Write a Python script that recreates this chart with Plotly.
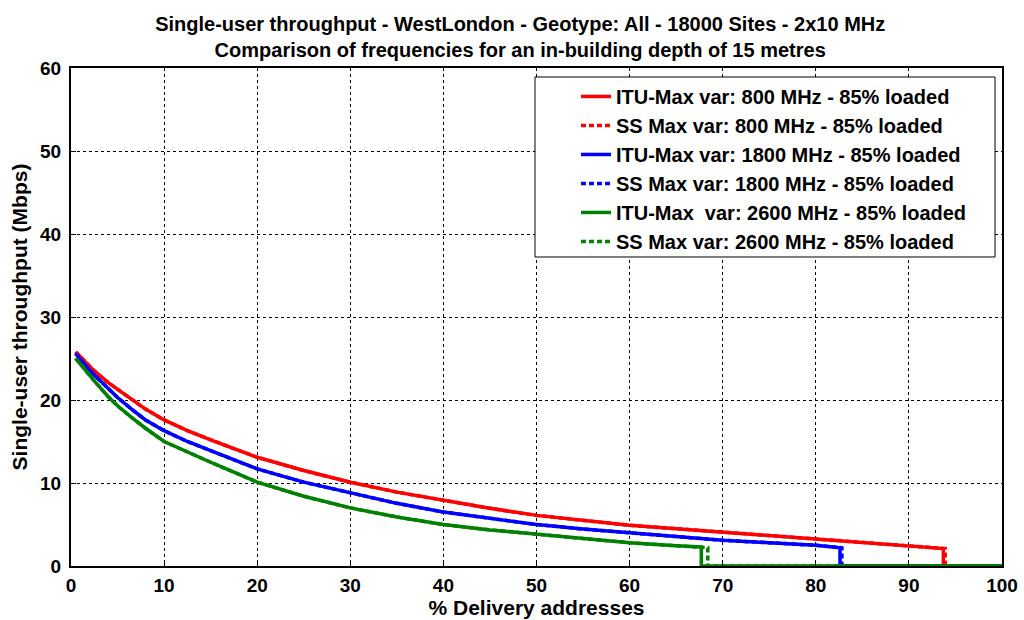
import plotly.graph_objects as go

# % delivery addresses (x) sample points
x_pct = [0.5, 1, 2.5, 4, 5, 6.5, 8, 10, 12.5, 15, 17.5, 20, 25, 30, 35, 40, 45, 50,
         55, 60, 65, 70, 75, 80, 85, 90]

# Single-user throughput (Mbps)
y_800 = [25.8, 25.2, 23.5, 22.1, 21.3, 20.1, 18.9, 17.6, 16.3, 15.2, 14.1, 13.1, 11.5, 10.1,
         8.9, 7.9, 6.95, 6.1, 5.45, 4.9, 4.5, 4.1, 3.7, 3.3, 2.9, 2.5]
y_1800 = [25.6, 24.9, 23.0, 21.3, 20.3, 18.9, 17.6, 16.3, 15.0, 13.9, 12.8, 11.7, 10.1, 8.8,
          7.55, 6.5, 5.7, 5.0, 4.45, 4.0, 3.5, 3.1, 2.8, 2.5]
y_2600 = [25.0, 24.3, 22.3, 20.4, 19.3, 17.9, 16.6, 15.0, 13.7, 12.5, 11.3, 10.1, 8.4, 7.0,
          5.9, 5.0, 4.35, 3.8, 3.25, 2.8, 2.45]

# coverage end points (x where throughput drops to 0) and last value
end_itu = {"800": (93.7, 2.1), "1800": (82.6, 2.2), "2600": (67.7, 2.3)}
end_ss = {"800": (93.9, 2.1), "1800": (82.8, 2.2), "2600": (68.4, 2.2)}
x_max = 100

labels_itu = ["ITU-Max var: 800 MHz - 85% loaded",
              "ITU-Max var: 1800 MHz - 85% loaded",
              "ITU-Max \u00a0var: 2600 MHz - 85% loaded"]
labels_ss = ["SS Max var: 800 MHz - 85% loaded",
             "SS Max var: 1800 MHz - 85% loaded",
             "SS Max var: 2600 MHz - 85% loaded"]
freqs = ["800", "1800", "2600"]
series = [y_800, y_1800, y_2600]
colors = ["#ff0000", "#0000ff", "#008000"]

FONT = "Liberation Sans, Arial, sans-serif"

fig = go.Figure()
for f, ys, c, li, ls in zip(freqs, series, colors, labels_itu, labels_ss):
    xs = x_pct[:len(ys)]
    for (ex, ey), name, dash in ((end_itu[f], li, "solid"), (end_ss[f], ls, "5px,3px")):
        fig.add_trace(go.Scatter(
            x=xs + [ex, ex, x_max],
            y=ys + [ey, 0, 0],
            mode="lines",
            name=name,
            line=dict(color=c, width=3.5, dash=dash),
        ))

axis_common = dict(
    showline=True, linecolor="black", linewidth=2, mirror=True,
    showgrid=True, gridcolor="black", gridwidth=1, griddash="dot",
    ticks="inside", ticklen=5, tickcolor="black", tickwidth=1,
    tickfont=dict(family=FONT, size=19, color="black", weight="bold"),
    zeroline=False, automargin=False,
)

# legend frame (MATLAB style box), in paper coordinates
fig.add_shape(type="rect", xref="paper", yref="paper",
              x0=0.4984, x1=0.9925, y0=0.6205, y1=0.9819,
              fillcolor="white", line=dict(color="black", width=1), layer="above")

fig.update_layout(
    width=1024, height=620,
    paper_bgcolor="white", plot_bgcolor="white",
    margin=dict(l=71, r=22, t=68, b=54),
    font=dict(family=FONT, color="black"),
    title=dict(
        text="Single-user throughput - WestLondon - Geotype: All - 18000 Sites - 2x10 MHz<br>"
             "Comparison of frequencies for an in-building depth of 15 metres",
        x=0.508, xanchor="center", xref="container",
        y=1 - 31 / 620, yanchor="middle", yref="container",
        font=dict(family=FONT, size=20, color="black", weight="bold"),
    ),
    xaxis=dict(range=[0, 100], tickvals=[0, 10, 20, 30, 40, 50, 60, 70, 80, 90, 100],
               ticklabelstandoff=1,
               title=dict(text="% Delivery addresses", standoff=3,
                          font=dict(family=FONT, size=21, color="black", weight="bold")),
               **axis_common),
    yaxis=dict(range=[0, 60], tickvals=[0, 10, 20, 30, 40, 50, 60],
               ticklabelstandoff=4,
               title=dict(text="Single-user throughput (Mbps)", standoff=7,
                          font=dict(family=FONT, size=21, color="black", weight="bold")),
               **axis_common),
    legend=dict(
        x=0.5424, xanchor="left", y=0.982, yanchor="top",
        bgcolor="rgba(0,0,0,0)", borderwidth=0,
        font=dict(family=FONT, size=20, color="black", weight="bold"),
        tracegroupgap=0,
    ),
    showlegend=True,
)

fig.write_html("out.html")
